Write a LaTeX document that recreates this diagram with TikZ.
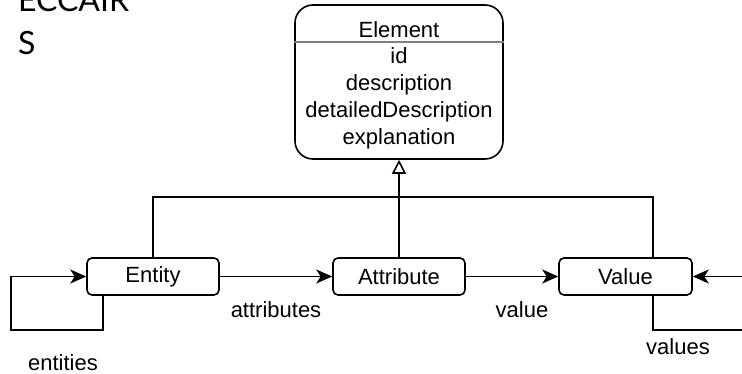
\documentclass[tikz,border=0pt]{standalone}
\usepackage{fontspec}
\setmainfont{Liberation Sans}
\newfontfamily\logofont{Lato}
\usetikzlibrary{arrows.meta,positioning}

\begin{document}
\begin{tikzpicture}[
		x=1pt, y=-1pt,
		line width=1.6pt,
		font=\fontsize{22}{27}\selectfont,
		arrow/.style={-{Stealth[length=16pt, width=14pt, inset=4.5pt]}},
		inherit/.style={-{Triangle[open, length=14pt, width=14pt]}},
		classbox/.style={draw, rounded corners=5pt, minimum height=37pt, minimum width=132pt, align=center},
		logo/.style={anchor=base west, font=\logofont\fontsize{32}{43}\selectfont},
	]
		\useasboundingbox (0,0) rectangle (742,374);
		\clip (0,0) rectangle (742,374);
		\node (logotop) at (14,12) [logo] {ECCAIR};
		\node (logobot) at (14,55) [logo] {S};
		
		\node (element) at (399,82) [draw, rounded corners=18pt, minimum width=208pt, minimum height=154pt] {};
		\node (title) at (399,30) {Element};
		\node (fields) at (399,98) [align=center] {id\\description\\detailedDescription\\explanation};
		\draw[gray, line width=2pt] ([yshift=-38pt]element.north west) -- ([yshift=-38pt]element.north east);
		
		\node (entity) at (153,276.5) [classbox] {Entity};
		\node (attribute) at (399,276.5) [classbox] {Attribute};
		\node (value) at (625.5,276.5) [classbox, minimum width=133pt] {Value};
		\coordinate (hub) at (399,197);
		
		\draw[inherit] (attribute.north) -- (element.south);
		\draw (entity.north) |- (hub);
		\draw ([xshift=27.5pt]value.north) |- (hub);
		\draw[arrow] (entity.east) -- node[yshift=-33pt] {attributes} (attribute.west);
		\draw[arrow] (attribute.east) -- node[xshift=10pt, yshift=-33pt] {value} (value.west);
		\draw[arrow] ([xshift=-50pt]entity.south) -- ++(0,34) -| ([xshift=-75pt]entity.west) -- (entity.west);
		\draw[arrow] ([xshift=27.5pt]value.south) -- ++(0,34) -| ([xshift=70pt]value.east) -- (value.east);
		\node (entlabel) at (63,363) {entities};
		\node (vallabel) at (678,347) {values};
	\end{tikzpicture}
\end{document}
